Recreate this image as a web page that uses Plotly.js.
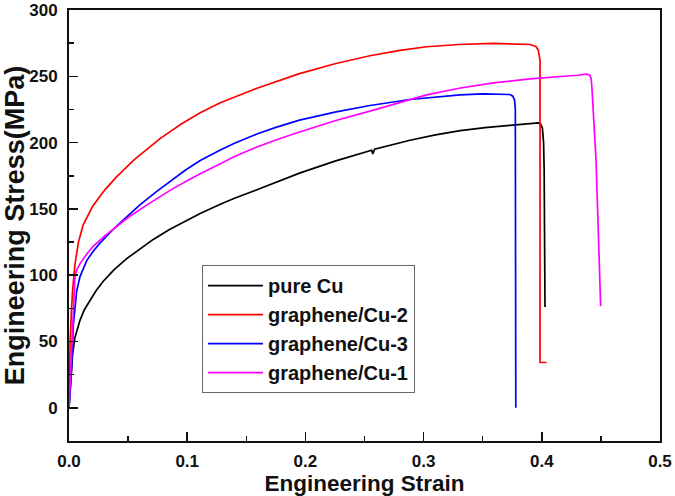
<!DOCTYPE html>
<html>
<head>
<meta charset="utf-8">
<script src="https://cdn.plot.ly/plotly-3.0.1.min.js"></script>
<style>
html,body{margin:0;padding:0;background:#fff;}
#chart{width:675px;height:496px;}
#chart .xtick text, #chart .ytick text, #chart .legendtext {font-weight:bold !important;}
</style>
</head>
<body>
<div id="chart"></div>
<script>
const seriesNames = ["pure Cu", "graphene/Cu-2", "graphene/Cu-3", "graphene/Cu-1"];

const pureCuStrain = [0, 0.001, 0.002, 0.003, 0.005, 0.007, 0.0093, 0.013, 0.0178, 0.023, 0.029, 0.038, 0.0488, 0.06, 0.0713, 0.085, 0.0995, 0.111, 0.128, 0.14, 0.159, 0.175, 0.195, 0.225, 0.2546, 0.256, 0.257, 0.2585, 0.2885, 0.31, 0.331, 0.352, 0.373, 0.39, 0.397, 0.399, 0.4005, 0.4015, 0.402, 0.4027];
const pureCuStress = [0, 15, 28, 40, 53, 60, 66, 74, 81, 88.5, 95.5, 104, 112.5, 120, 127, 134.5, 141.5, 146.5, 153.5, 158, 164.5, 170, 177, 186, 193.8, 194.2, 191.5, 195, 201.8, 205.8, 209, 211.3, 213, 214.5, 214.8, 214, 211, 200, 180, 76];

const gCu2Strain = [0, 0.0005, 0.001, 0.002, 0.003, 0.005, 0.008, 0.012, 0.02, 0.03, 0.04, 0.055, 0.077, 0.095, 0.111, 0.128, 0.159, 0.195, 0.225, 0.2546, 0.28, 0.3026, 0.33, 0.359, 0.38, 0.39, 0.395, 0.397, 0.3985, 0.3985, 0.404];
const gCu2Stress = [0, 30, 50, 72, 88, 108, 125, 138, 152, 164, 174, 187, 203, 214, 222.5, 230, 241, 252, 259.5, 265.5, 269.5, 272.3, 274, 274.8, 274.5, 274, 272.5, 269.8, 262, 34.2, 34.2];

const gCu3Strain = [0, 0.001, 0.0023, 0.0036, 0.005, 0.0065, 0.0093, 0.015, 0.02, 0.026, 0.033, 0.039, 0.0488, 0.06, 0.074, 0.0855, 0.098, 0.111, 0.128, 0.14, 0.159, 0.175, 0.195, 0.225, 0.2546, 0.2885, 0.31, 0.331, 0.35, 0.365, 0.373, 0.3755, 0.377, 0.3776, 0.3776, 0.378, 0.378];
const gCu3Stress = [0, 15, 32, 62, 78, 88, 99, 111, 117.5, 124, 130.5, 136, 144, 153, 163, 171, 179, 186.5, 194.5, 199.5, 206.5, 211.5, 217, 223, 228, 232.5, 234.5, 236, 236.8, 236.8, 236.3, 235, 232, 225, 111, 110, 0];

const gCu1Strain = [0, 0.001, 0.002, 0.003, 0.004, 0.005, 0.0065, 0.0093, 0.015, 0.0206, 0.03, 0.039, 0.05, 0.065, 0.0855, 0.0995, 0.111, 0.128, 0.14, 0.159, 0.175, 0.195, 0.225, 0.2546, 0.28, 0.3026, 0.33, 0.359, 0.39, 0.4154, 0.43, 0.438, 0.4405, 0.4418, 0.4425, 0.4459, 0.4498];
const gCu1Stress = [0, 20, 45, 70, 88, 98, 104, 108.6, 116, 122, 129.5, 136, 143.5, 152.5, 164, 171, 176.6, 184, 189.5, 196.7, 202, 208, 216.5, 223.7, 230.5, 236, 241, 245, 248, 249.6, 250.8, 251.6, 251, 248, 240, 186.7, 76.6];

const xTickVals = [0, 0.1, 0.2, 0.3, 0.4, 0.5];
const xTickText = ["0.0", "0.1", "0.2", "0.3", "0.4", "0.5"];
const yTickVals = [0, 50, 100, 150, 200, 250, 300];
const yTickText = ["0", "50", "100", "150", "200", "250", "300"];

const colors = ["#000000", "#ff0000", "#0000ff", "#ff00ff"];
const xs = [pureCuStrain, gCu2Strain, gCu3Strain, gCu1Strain];
const ys = [pureCuStress, gCu2Stress, gCu3Stress, gCu1Stress];

const FONT = "Liberation Sans, Arial, sans-serif";
const bold = s => "<b>" + s + "</b>";

const traces = seriesNames.map((n, i) => ({
  type: "scatter", mode: "lines", name: bold(n),
  x: xs[i], y: ys[i],
  line: {color: colors[i], width: 1.7}
}));

const axisCommon = {
  showgrid: false, zeroline: false,
  showline: true, linecolor: "#111", linewidth: 2, mirror: true,
  ticks: "inside", ticklen: 9, tickwidth: 1.5, tickcolor: "#111",
  tickfont: {family: FONT, size: 17, color: "#111", weight: 700},
};

const layout = {
  width: 675, height: 496,
  margin: {l: 69, r: 15, t: 10, b: 55},
  paper_bgcolor: "#fff", plot_bgcolor: "#fff",
  showlegend: true,
  legend: {
    x: 0.225, y: 0.408, xanchor: "left", yanchor: "top",
    bgcolor: "#fff", bordercolor: "#666", borderwidth: 1,
    font: {family: FONT, size: 20, color: "#111"},
    itemwidth: 55, tracegroupgap: 0
  },
  xaxis: Object.assign({}, axisCommon, {
    range: [0, 0.5], tickvals: xTickVals, ticktext: xTickText.map(bold),
    minor: {dtick: 0.05, ticks: "inside", ticklen: 5, tickwidth: 1.5, tickcolor: "#111"},
    ticklabelstandoff: 4,
    title: {text: bold("Engineering Strain"), font: {family: FONT, size: 22.5, color: "#111"}, standoff: 3}
  }),
  yaxis: Object.assign({}, axisCommon, {
    range: [-25, 300], tickvals: yTickVals, ticktext: yTickText.map(bold),
    minor: {dtick: 25, ticks: "inside", ticklen: 5, tickwidth: 1.5, tickcolor: "#111"},
    ticklabelstandoff: 6,
    title: {text: bold("Engineering Stress(MPa)"), font: {family: FONT, size: 27, color: "#111"}, standoff: 3}
  })
};

Plotly.newPlot("chart", traces, layout, {displayModeBar: false, staticPlot: true});
</script>
</body>
</html>
